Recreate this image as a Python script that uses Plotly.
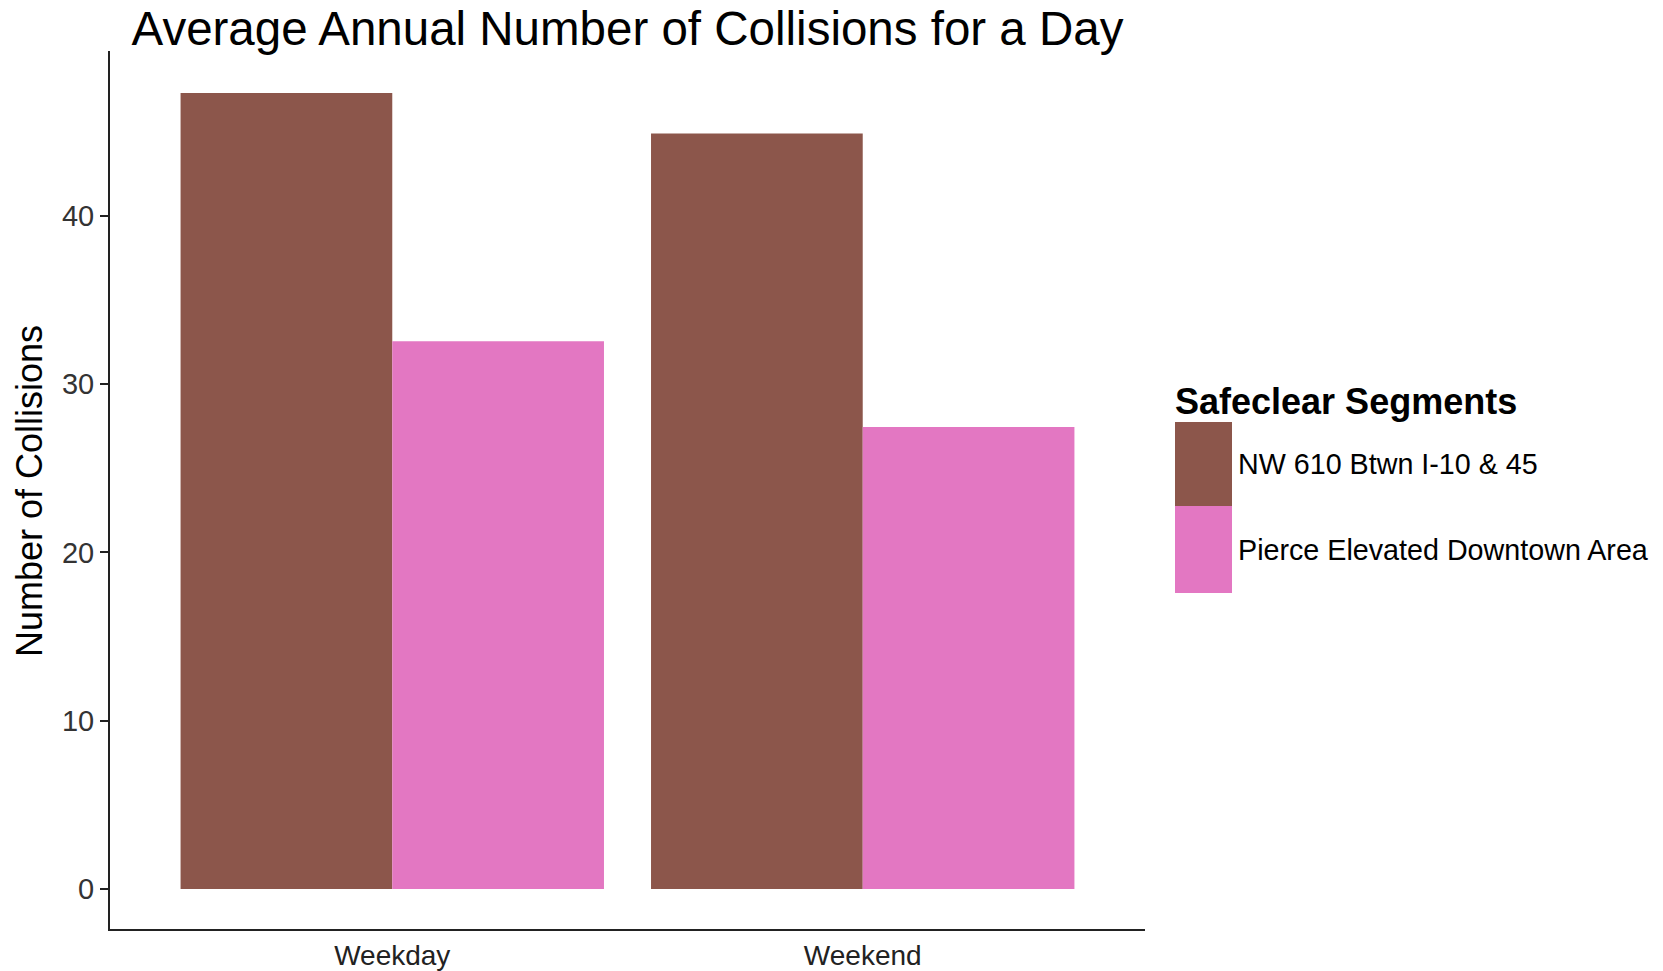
import plotly.graph_objects as go

# ---- data ----
categories = ["Weekday", "Weekend"]
segments = ["NW 610 Btwn I-10 & 45", "Pierce Elevated Downtown Area"]
nw_values = [47.3, 44.9]
pierce_values = [32.55, 27.45]
series_values = [nw_values, pierce_values]
colors = ["#8C564B", "#E377C2"]
y_ticks = [0, 10, 20, 30, 40]

W, H = 1663, 971
L, R, T, B = 110, 1145, 51, 929  # plot area in page pixels

def px_x(px):
    return (px - L) / (R - L)

def px_y(py):
    return (B - py) / (B - T)

FONT = "Liberation Sans, Arial, Helvetica, sans-serif"

fig = go.Figure()
for name, vals, col in zip(segments, series_values, colors):
    fig.add_trace(go.Bar(
        x=categories, y=vals, name=name,
        marker=dict(color=col, line=dict(width=0)),
        showlegend=False,
    ))

fig.update_layout(
    width=W, height=H,
    margin=dict(l=L, r=W - R, t=T, b=H - B, pad=0, autoexpand=False),
    paper_bgcolor="white", plot_bgcolor="white",
    barmode="group", bargap=0.1, bargroupgap=0,
    font=dict(family=FONT, color="black"),
    title=dict(
        text="Average Annual Number of Collisions for a Day",
        font=dict(family=FONT, size=47.5, color="black"),
        x=((L + R) / 2) / W, xanchor="center",
        y=1 - 28 / H, yanchor="middle", yref="container", xref="container",
    ),
    xaxis=dict(
        type="category", range=[-0.6, 1.6], automargin=False,
        showline=True, linecolor="#222222", linewidth=2,
        ticks="", showgrid=False, zeroline=False,
        tickfont=dict(family=FONT, size=28, color="#222222"),
        ticklabelstandoff=0,
    ),
    yaxis=dict(
        range=[-2.38, 49.8], tickvals=y_ticks, ticktext=[str(v) for v in y_ticks],
        automargin=False,
        showline=True, linecolor="#222222", linewidth=2,
        ticks="outside", ticklen=8, tickwidth=1.5, tickcolor="#222222",
        showgrid=False, zeroline=False,
        tickfont=dict(family=FONT, size=29, color="#333333"),
    ),
)

# y-axis title
fig.add_annotation(
    text="Number of Collisions", textangle=-90,
    xref="paper", yref="paper", x=px_x(30), y=px_y(491),
    xanchor="center", yanchor="middle", showarrow=False,
    font=dict(family=FONT, size=36, color="black"),
)

# custom legend
fig.add_annotation(
    text="<b>Safeclear Segments</b>",
    xref="paper", yref="paper", x=px_x(1173), y=px_y(401),
    xanchor="left", yanchor="middle", showarrow=False,
    font=dict(family=FONT, size=36, color="black"),
)
key_tops = [422, 506]
key_h = [84, 87]
for name, col, top, h in zip(segments, colors, key_tops, key_h):
    fig.add_shape(
        type="rect", xref="paper", yref="paper",
        x0=px_x(1175), x1=px_x(1232), y0=px_y(top + h), y1=px_y(top),
        fillcolor=col, line=dict(width=0), layer="above",
    )
    fig.add_annotation(
        text=name, xref="paper", yref="paper",
        x=px_x(1236), y=px_y(top + h / 2),
        xanchor="left", yanchor="middle", showarrow=False,
        font=dict(family=FONT, size=28.7, color="black"),
    )

fig.write_html(
    "out.html",
    config={"displayModeBar": False},
    post_script="document.body.style.margin='0px'; document.body.style.overflow='hidden';",
)
